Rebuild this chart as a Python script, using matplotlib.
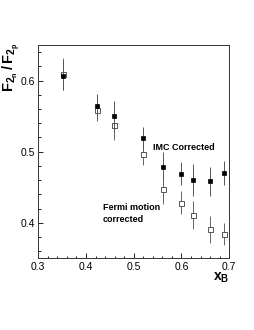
import matplotlib
matplotlib.use("Agg")
import matplotlib.pyplot as plt
from matplotlib.ticker import MultipleLocator

plt.rcParams['font.family'] = ['Liberation Sans', 'DejaVu Sans']
plt.rcParams['mathtext.fontset'] = 'custom'
plt.rcParams['mathtext.rm'] = 'Liberation Sans:bold'
plt.rcParams['mathtext.bf'] = 'Liberation Sans:bold'
plt.rcParams['mathtext.it'] = 'Liberation Sans:bold'
plt.rcParams['mathtext.default'] = 'bf'

# x_B bins
x_b = [0.352, 0.424, 0.458, 0.519, 0.562, 0.600, 0.625, 0.660, 0.690]
# IMC corrected (filled squares)
imc_ratio = [0.607, 0.5635, 0.5495, 0.519, 0.479, 0.469, 0.460, 0.458, 0.470]
imc_err = [0.021, 0.017, 0.022, 0.016, 0.021, 0.016, 0.022, 0.020, 0.017]
# Fermi motion corrected (open squares)
fermi_ratio = [0.609, 0.558, 0.538, 0.497, 0.447, 0.428, 0.411, 0.391, 0.384]
fermi_err = [0.022, 0.015, 0.021, 0.016, 0.020, 0.016, 0.020, 0.019, 0.016]

fig = plt.figure(figsize=(2.55, 3.3), dpi=100)
ax = fig.add_axes([0.150, 0.2173, 0.749, 0.6464])

ax.errorbar(x_b, fermi_ratio, yerr=fermi_err, fmt='s', ms=3.6, mfc='white',
            mec='#555555', mew=0.7, ecolor='#666666', elinewidth=0.7, capsize=0, zorder=2)
ax.errorbar(x_b, imc_ratio, yerr=imc_err, fmt='s', ms=3.2, mfc='black',
            mec='black', mew=0.5, ecolor='#555555', elinewidth=0.7, capsize=0, zorder=3)

ax.set_xlim(0.3, 0.7)
ax.set_ylim(0.35, 0.65)
ax.xaxis.set_major_locator(MultipleLocator(0.1))
ax.xaxis.set_minor_locator(MultipleLocator(0.02))
ax.yaxis.set_major_locator(MultipleLocator(0.1))
ax.yaxis.set_minor_locator(MultipleLocator(0.02))
ax.tick_params(which='both', direction='in', top=False, right=False, labelsize=7.5, width=0.6)
ax.tick_params(which='major', length=3.5, pad=2.5)
ax.tick_params(which='minor', length=1.8)
for s in ax.spines.values():
    s.set_linewidth(0.7)
    s.set_color('#333333')

ax.text(0.600, 0.52, 'IMC Corrected', fontsize=6.5, fontweight='bold', transform=ax.transAxes,
        ha='left', va='center')
ax.text(0.337, 0.21, 'Fermi motion\ncorrected', fontsize=6.5, fontweight='bold', transform=ax.transAxes,
        ha='left', va='center', linespacing=1.4)

fig.text(229.5 / 255, 1 - 278 / 330, r'$x_B$', fontsize=10, ha='right', va='center')
fig.text(11 / 255, 1 - 43 / 330, r'$F_{2_n}\,/\,F_{2_p}$', fontsize=10.5, rotation=90,
         ha='center', va='top')

fig.savefig('out.png', dpi=100)
